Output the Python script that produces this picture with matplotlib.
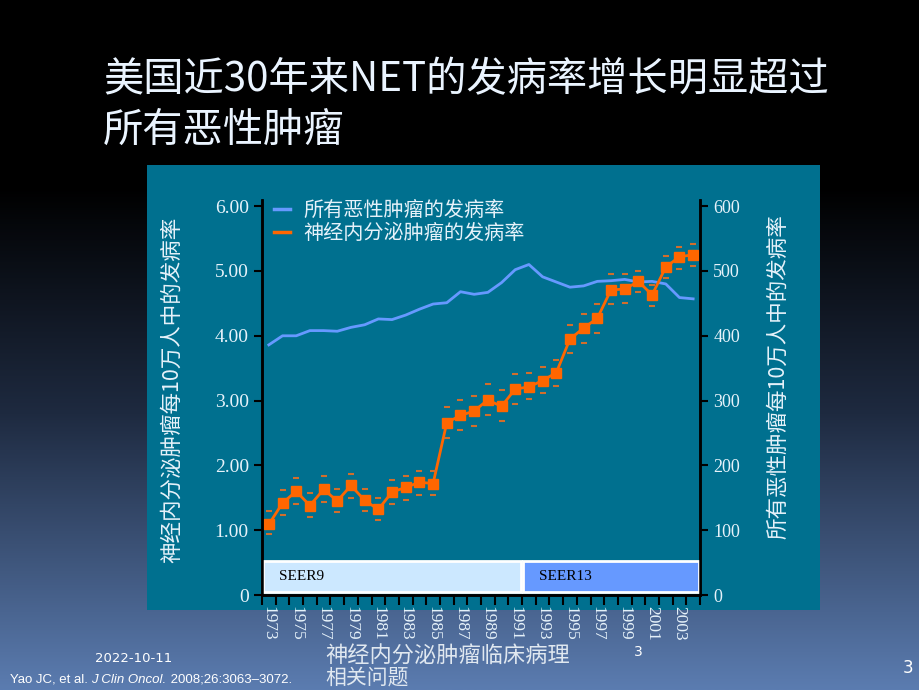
import numpy as np
import matplotlib
matplotlib.use("Agg")
import matplotlib.pyplot as plt
from matplotlib.colors import LinearSegmentedColormap
from matplotlib.patches import Rectangle
from matplotlib.lines import Line2D

plt.rcParams['font.family'] = ['Noto Sans CJK SC', 'DejaVu Sans']

## data
years = list(range(1973, 2005))
net_rate = [1.09, 1.42, 1.60, 1.38, 1.63, 1.45, 1.69, 1.46, 1.32, 1.59, 1.66,
            1.74, 1.72, 2.66, 2.77, 2.84, 3.01, 2.91, 3.18, 3.21, 3.31, 3.43,
            3.95, 4.12, 4.27, 4.71, 4.72, 4.84, 4.63, 5.06, 5.22, 5.25]
net_upper = [1.30, 1.62, 1.80, 1.57, 1.83, 1.64, 1.87, 1.64, 1.49, 1.78, 1.84,
             1.92, 1.91, 2.90, 3.01, 3.07, 3.25, 3.16, 3.41, 3.42, 3.52, 3.63,
             4.17, 4.34, 4.49, 4.95, 4.95, 5.00, 4.79, 5.23, 5.37, 5.41]
net_lower = [0.94, 1.23, 1.41, 1.21, 1.44, 1.28, 1.49, 1.30, 1.16, 1.41, 1.47,
             1.55, 1.55, 2.43, 2.54, 2.61, 2.78, 2.69, 2.94, 3.03, 3.12, 3.22,
             3.74, 3.89, 4.05, 4.49, 4.51, 4.67, 4.46, 4.89, 5.03, 5.08]
all_rate = [386, 400, 400, 408, 408, 407, 413, 417, 426, 425, 432, 441, 449,
            451, 468, 464, 467, 482, 502, 510, 491, 483, 475, 477, 484, 485,
            487, 483, 484, 480, 459, 457]

left_ticks = [0, 1, 2, 3, 4, 5, 6]
left_ticklabels = ['0', '1.00', '2.00', '3.00', '4.00', '5.00', '6.00']
right_ticks = [0, 100, 200, 300, 400, 500, 600]
seer_periods = [('SEER9', 1973, 1991, '#cce8ff'), ('SEER13', 1992, 2004, '#6699ff')]

title1 = '美国近30年来NET的发病率增长明显超过'
title2 = '所有恶性肿瘤'
label_all = '所有恶性肿瘤的发病率'
label_net = '神经内分泌肿瘤的发病率'
ylabel_left = '神经内分泌肿瘤每10万人中的发病率'
ylabel_right = '所有恶性肿瘤每10万人中的发病率'

txt = '#e6f2fa'
orange = '#ff6600'
blue = '#6699ff'

fig = plt.figure(figsize=(9.2, 6.9), dpi=100)

## slide background
bg = fig.add_axes([0, 0, 1, 1])
bg.axis('off')
cmap = LinearSegmentedColormap.from_list('bg', [(0, '#000000'), (0.27, '#000000'),
                                                (0.6, '#1e2a40'), (1.0, '#5b7cb0')])
bg.imshow(np.linspace(0, 1, 256).reshape(-1, 1), aspect='auto', cmap=cmap,
          extent=[0, 1, 0, 1], origin='upper')
bg.set_xlim(0, 1)
bg.set_ylim(0, 1)
bg.add_patch(Rectangle((147 / 920, 80 / 690), 673 / 920, 445 / 690,
                       facecolor='#00708f', edgecolor='none', transform=bg.transAxes))

fig.text(103 / 920, 1 - 80 / 690, title1, fontsize=29, color='#eaf4ff', va='center')
fig.text(103 / 920, 1 - 130 / 690, title2, fontsize=29, color='#eaf4ff', va='center')

## chart
ax = fig.add_axes([262 / 920, 95 / 690, 438 / 920, 395.3 / 690])
ax2 = ax.twinx()
ax.set_zorder(2)
ax2.set_zorder(1)
ax.patch.set_visible(False)
ax2.patch.set_visible(False)

x = np.arange(len(years))
ax2.plot(x, all_rate, color=blue, lw=2)
ax.plot(x, net_rate, color=orange, lw=2, marker='s', ms=6.5)
ax.plot(x, net_upper, ls='none', marker='_', ms=5, mew=1.5, color='#d06e2c')
ax.plot(x, net_lower, ls='none', marker='_', ms=5, mew=1.5, color='#d06e2c')

for name, y0, y1, col in seer_periods:
    i0 = years.index(y0) - 0.45
    i1 = years.index(y1) + 0.45
    ax.add_patch(Rectangle((i0, 0.05), i1 - i0, 0.47, facecolor=col,
                           edgecolor='white', lw=2, zorder=1))
    ax.text(i0 + 1.2, 0.29, name, fontsize=11, family='Liberation Serif',
            color='black', va='center')

ax.set_xlim(-0.5, len(years) - 0.5)
ax.set_ylim(0, 6.1)
ax2.set_ylim(0, 610)

ax.set_xticks(np.arange(-0.5, len(years), 1))
ax.set_xticklabels([])
ax.set_xticks(x[::2], minor=True)
ax.set_xticklabels([str(y) for y in years[::2]], minor=True, rotation=-90,
                   family='Liberation Serif', fontsize=12.5, color=txt)
ax.tick_params(axis='x', which='major', length=7, width=1.5, color='black')
ax.tick_params(axis='x', which='minor', length=0, pad=8)

ax.set_yticks(left_ticks)
ax.set_yticklabels(left_ticklabels, family='Liberation Serif', fontsize=14, color=txt)
ax.tick_params(axis='y', length=6, width=1.5, color='black')
ax2.set_yticks(right_ticks)
ax2.set_yticklabels([str(t) for t in right_ticks], family='Liberation Serif',
                    fontsize=13, color=txt)
ax2.tick_params(axis='y', length=6, width=1.5, color='black')

for a in (ax, ax2):
    a.spines['top'].set_visible(False)
    for s in ('left', 'right', 'bottom'):
        a.spines[s].set_color('black')
        a.spines[s].set_linewidth(1.8)

handles = [Line2D([], [], color=blue, lw=2.5), Line2D([], [], color=orange, lw=2.5)]
ax.legend(handles, [label_all, label_net], loc='upper left', bbox_to_anchor=(-0.015, 1.045),
          frameon=False, handlelength=0.8, handletextpad=0.7, labelspacing=0.12,
          prop={'size': 14.5}, labelcolor=txt)

fig.text(172 / 920, 1 - 390 / 690, ylabel_left, rotation=90, fontsize=15.5,
         color=txt, ha='center', va='center')
fig.text(778 / 920, 1 - 377 / 690, ylabel_right, rotation=90, fontsize=15.5,
         color=txt, ha='center', va='center')

## footer
fig.text(95 / 920, 1 - 658 / 690, '2022-10-11', fontsize=9.5, family='DejaVu Sans',
         color='white', va='center')
fig.text(325 / 920, 1 - 656 / 690, '神经内分泌肿瘤临床病理', fontsize=16,
         color='#e0e8f0', va='center')
fig.text(325 / 920, 1 - 678 / 690, '相关问题', fontsize=15, color='#e0e8f0', va='center')
fig.text(634 / 920, 1 - 652 / 690, '3', fontsize=10, family='DejaVu Sans',
         color='white', va='center')
fig.text(903 / 920, 1 - 668 / 690, '3', fontsize=12, family='DejaVu Sans',
         color='white', va='center')

fig.canvas.draw()
r = fig.canvas.get_renderer()
xpos = 10 / 920
ref_parts = [('Yao JC, et al. ', 'normal'), ('J Clin Oncol.', 'italic'),
             (' 2008;26:3063\u20133072.', 'normal')]
for part, style in ref_parts:
    t = fig.text(xpos, 1 - 680 / 690, part, fontsize=9.5, style=style,
                 family=['Liberation Sans Narrow', 'Liberation Sans'],
                 color='white', va='center')
    bb = t.get_window_extent(renderer=r)
    xpos += bb.width / fig.bbox.width

fig.savefig('out.png', dpi=100)
